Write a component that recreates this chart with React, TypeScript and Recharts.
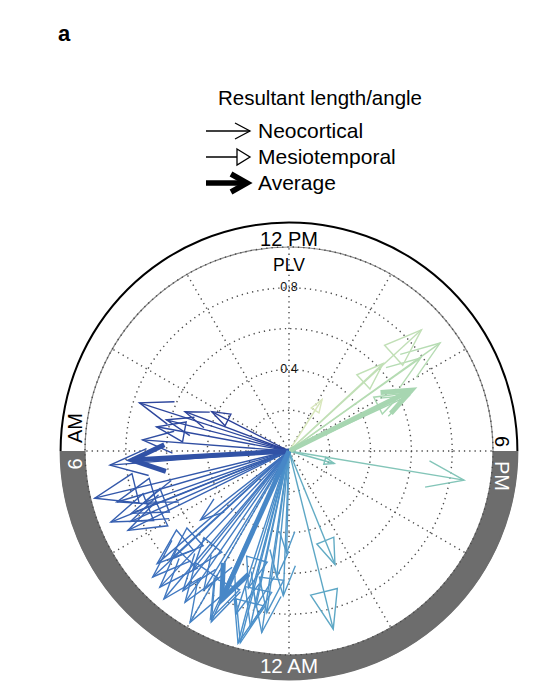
import React from "react";
import {
  PieChart,
  Pie,
  Cell,
  RadarChart,
  PolarGrid,
  PolarAngleAxis,
  PolarRadiusAxis,
  ScatterChart,
  Scatter,
  XAxis,
  YAxis,
} from "recharts";

// resultant angle as clock hour (0-24) and resultant length (PLV)
const neoHours = [
  15.63, 15.65, 16.35, 18.63, 0.37, 0.09, 0.15, 0.57, 0.99, 1.2, 1.63, 0.8,
  2.1, 2.48, 2.68, 3.15, 3.47, 2.0, 4.7, 4.4, 5.7, 6.29, 6.95, 7.19, 7.38,
];
const neoPlv = [
  0.91, 0.79, 0.65, 0.87, 0.62, 0.5, 0.71, 0.9, 0.975, 0.84, 0.92, 0.78,
  0.8, 0.86, 0.95, 0.91, 0.55, 0.97, 0.75, 0.85, 0.88, 0.72, 0.62, 0.77, 0.545,
];
const mesioHours = [
  15.17, 15.14, 16.2, 14.18, 19.03, 22.53, 23.07, 0.52, 0.83, 0.95, 1.1, 1.67,
  2.3, 2.6, 2.9, 3.17, 3.3, 4.25, 4.55, 4.56, 4.9, 5.09, 6.69, 7.8,
];
const mesioPlv = [
  0.88, 0.63, 0.62, 0.3, 0.23, 0.6, 0.9, 0.8, 0.88, 0.97, 0.7, 0.91,
  0.9, 0.75, 0.92, 0.79, 0.85, 0.88, 0.94, 0.83, 0.88, 0.98, 0.66, 0.425,
];
const avgHours = [16.24, 5.78, 1.62];
const avgPlv = [0.67, 0.77, 0.8];

const clockLabels = [
  "12 PM", "2 PM", "4 PM", "6 PM", "8 PM", "10 PM",
  "12 AM", "2 AM", "4 AM", "6 AM", "8 AM", "10 AM",
];
const radiusTicks = [0, 0.2, 0.4, 0.6, 0.8, 1];
const labelledTicks = [0.4, 0.8];
const dayNight = [
  { name: "day", hours: 12 },
  { name: "night", hours: 12 },
];

const W = 540;
const H = 700;
const CX = 289;
const CY = 451;
const PLOT_R = 204;
const FONT = '"Liberation Sans", Arial, Helvetica, sans-serif';
const ZERO = { top: 0, right: 0, bottom: 0, left: 0 };

// colour runs clockwise from pale yellow-green (early afternoon) to dark blue (morning)
const stopOffsets = [1, 2.5, 3.5, 6, 10, 12, 14, 16, 19];
const stopColors = [
  "#dce8bd", "#b9ddb4", "#a1d4b0", "#7ec2b9", "#5ea8c5",
  "#4b8fca", "#3f74bf", "#3359ab", "#2b3f97",
];

const hexToRgb = (h: string) => [1, 3, 5].map((i) => parseInt(h.slice(i, i + 2), 16));

function colorFor(hour: number) {
  const off = (hour - 13 + 24) % 24;
  if (off <= stopOffsets[0]) return stopColors[0];
  for (let i = 1; i < stopOffsets.length; i++) {
    if (off <= stopOffsets[i]) {
      const t = (off - stopOffsets[i - 1]) / (stopOffsets[i] - stopOffsets[i - 1]);
      const a = hexToRgb(stopColors[i - 1]);
      const b = hexToRgb(stopColors[i]);
      const c = a.map((v, k) => Math.round(v + (b[k] - v) * t));
      return `rgb(${c[0]},${c[1]},${c[2]})`;
    }
  }
  return stopColors[stopColors.length - 1];
}

type Kind = "neo" | "mesio" | "avg";
interface Arrow {
  kind: Kind;
  hour: number;
  plv: number;
}

const toXY = (hour: number, plv: number) => {
  const th = ((hour - 12) / 24) * 2 * Math.PI;
  return { x: plv * Math.sin(th), y: plv * Math.cos(th) };
};

const arrows: Arrow[] = [
  ...neoHours.map((h, i) => ({ kind: "neo" as Kind, hour: h, plv: neoPlv[i] })),
  ...mesioHours.map((h, i) => ({ kind: "mesio" as Kind, hour: h, plv: mesioPlv[i] })),
  ...avgHours.map((h, i) => ({ kind: "avg" as Kind, hour: h, plv: avgPlv[i] })),
];

const ArrowHead = (props: any) => {
  const { cx, cy, payload, arrow, color } = props;
  if (!payload || !payload.tip || cx == null || cy == null) return <g />;
  const th = ((arrow.hour - 12) / 24) * 2 * Math.PI;
  const ux = Math.sin(th);
  const uy = -Math.cos(th);
  const len = arrow.plv * PLOT_R;
  const isAvg = arrow.kind === "avg";
  const h = len * 0.21;
  const w = len * (isAvg ? 0.085 : 0.075);
  const bx = cx - ux * h;
  const by = cy - uy * h;
  const px = -uy;
  const py = ux;
  const a1 = `${bx + px * w},${by + py * w}`;
  const a2 = `${bx - px * w},${by - py * w}`;
  const tip = `${cx},${cy}`;
  const sw = isAvg ? 5 : 1.4;
  if (arrow.kind === "mesio") {
    return <polygon points={`${a1} ${tip} ${a2}`} fill="none" stroke={color} strokeWidth={sw} />;
  }
  return (
    <polyline
      points={`${a1} ${tip} ${a2}`}
      fill="none"
      stroke={color}
      strokeWidth={sw}
      strokeLinejoin="miter"
    />
  );
};

const RadiusTick = (props: any) => {
  const { x, y, payload } = props;
  if (!labelledTicks.includes(payload.value)) return <g />;
  return (
    <text x={x} y={y + 3.5} textAnchor="middle" fontSize={12.5} fontFamily={FONT} fill="#111">
      {payload.value}
    </text>
  );
};

const layer: React.CSSProperties = { position: "absolute", left: 0, top: 0 };

export default function App() {
  const clockData = clockLabels.map((c) => ({ clock: c }));
  return (
    <div style={{ position: "relative", width: W, height: H, background: "#fff", fontFamily: FONT }}>
      <style>{"body{margin:0}"}</style>

      <div style={layer}>
        <PieChart width={W} height={H} margin={ZERO}>
          <Pie
            data={dayNight}
            dataKey="hours"
            cx={CX}
            cy={CY}
            innerRadius={PLOT_R}
            outerRadius={229}
            startAngle={180}
            endAngle={-180}
            stroke="none"
            isAnimationActive={false}
          >
            <Cell fill="#ffffff" />
            <Cell fill="#6d6d6d" />
          </Pie>
          <Pie
            data={dayNight}
            dataKey="hours"
            cx={CX}
            cy={CY}
            innerRadius={227.4}
            outerRadius={229.4}
            startAngle={180}
            endAngle={-180}
            stroke="none"
            isAnimationActive={false}
          >
            <Cell fill="#000000" />
            <Cell fill="#6d6d6d" />
          </Pie>
          <Pie
            data={dayNight}
            dataKey="hours"
            cx={CX}
            cy={CY}
            innerRadius={PLOT_R - 0.6}
            outerRadius={PLOT_R + 0.6}
            startAngle={180}
            endAngle={-180}
            stroke="none"
            isAnimationActive={false}
          >
            <Cell fill="#8a8a8a" />
            <Cell fill="#6d6d6d" />
          </Pie>
        </PieChart>
      </div>

      <div style={layer}>
        <RadarChart width={W} height={H} cx={CX} cy={CY} outerRadius={PLOT_R} data={clockData} margin={ZERO}>
          <PolarGrid gridType="circle" stroke="#4a4a4a" strokeWidth={1.4} strokeDasharray="1.3 4" />
          <PolarAngleAxis dataKey="clock" tick={false} axisLine={false} tickLine={false} />
          <PolarRadiusAxis
            angle={90}
            type="number"
            domain={[0, 1]}
            allowDataOverflow
            ticks={radiusTicks}
            axisLine={false}
            tickLine={false}
            tick={<RadiusTick />}
          />
        </RadarChart>
      </div>

      <div style={layer}>
        <ScatterChart
          width={W}
          height={H}
          margin={{ top: CY - PLOT_R, right: W - CX - PLOT_R, bottom: H - CY - PLOT_R, left: CX - PLOT_R }}
        >
          <XAxis type="number" dataKey="x" domain={[-1, 1]} allowDataOverflow hide />
          <YAxis type="number" dataKey="y" domain={[-1, 1]} allowDataOverflow hide />
          {arrows.map((a, i) => {
            const color = colorFor(a.hour);
            const tip = toXY(a.hour, a.plv);
            const pts = [
              { x: 0, y: 0, tip: false },
              { x: tip.x, y: tip.y, tip: true },
            ];
            return (
              <Scatter
                key={i}
                data={pts}
                fill={color}
                line={{ stroke: color, strokeWidth: a.kind === "avg" ? 5 : 1.4 }}
                shape={(p: any) => <ArrowHead {...p} arrow={a} color={color} />}
                isAnimationActive={false}
              />
            );
          })}
        </ScatterChart>
      </div>

      <svg style={{ ...layer, pointerEvents: "none" }} width={W} height={H} fontFamily={FONT}>
        <text x={58} y={41} fontSize={22} fontWeight="bold">a</text>

        <text x={320} y={105} fontSize={20.5} textAnchor="middle">Resultant length/angle</text>

        {/* legend glyphs */}
        <line x1={206} y1={131} x2={250} y2={131} stroke="#000" strokeWidth={1.3} />
        <polyline points="235,123 250,131 235,139" fill="none" stroke="#000" strokeWidth={1.3} />
        <line x1={206} y1={157} x2={249} y2={157} stroke="#000" strokeWidth={1.3} />
        <polygon points="237,149 250,157 237,165" fill="#fff" stroke="#000" strokeWidth={1.3} />
        <line x1={206} y1={183} x2={246} y2={183} stroke="#000" strokeWidth={5.5} />
        <polyline points="231,174 247,183 231,192" fill="none" stroke="#000" strokeWidth={5.5} />

        <text x={258} y={138} fontSize={21}>Neocortical</text>
        <text x={258} y={164} fontSize={21}>Mesiotemporal</text>
        <text x={258} y={190} fontSize={21}>Average</text>

        <text x={CX} y={246} fontSize={20} textAnchor="middle">12 PM</text>
        <text x={CX} y={271} fontSize={17.5} textAnchor="middle">PLV</text>
        <text x={CX} y={673} fontSize={20.5} textAnchor="middle" fill="#fff">12 AM</text>

        <text transform="translate(81.5,428) rotate(-90)" fontSize={20} textAnchor="middle" fill="#000">AM</text>
        <text transform="translate(81.5,464) rotate(-90)" fontSize={20} textAnchor="middle" fill="#fff">6</text>
        <text transform="translate(495,441.5) rotate(90)" fontSize={20} textAnchor="middle" fill="#000">6</text>
        <text transform="translate(495,476) rotate(90)" fontSize={20} textAnchor="middle" fill="#fff">PM</text>
      </svg>
    </div>
  );
}
